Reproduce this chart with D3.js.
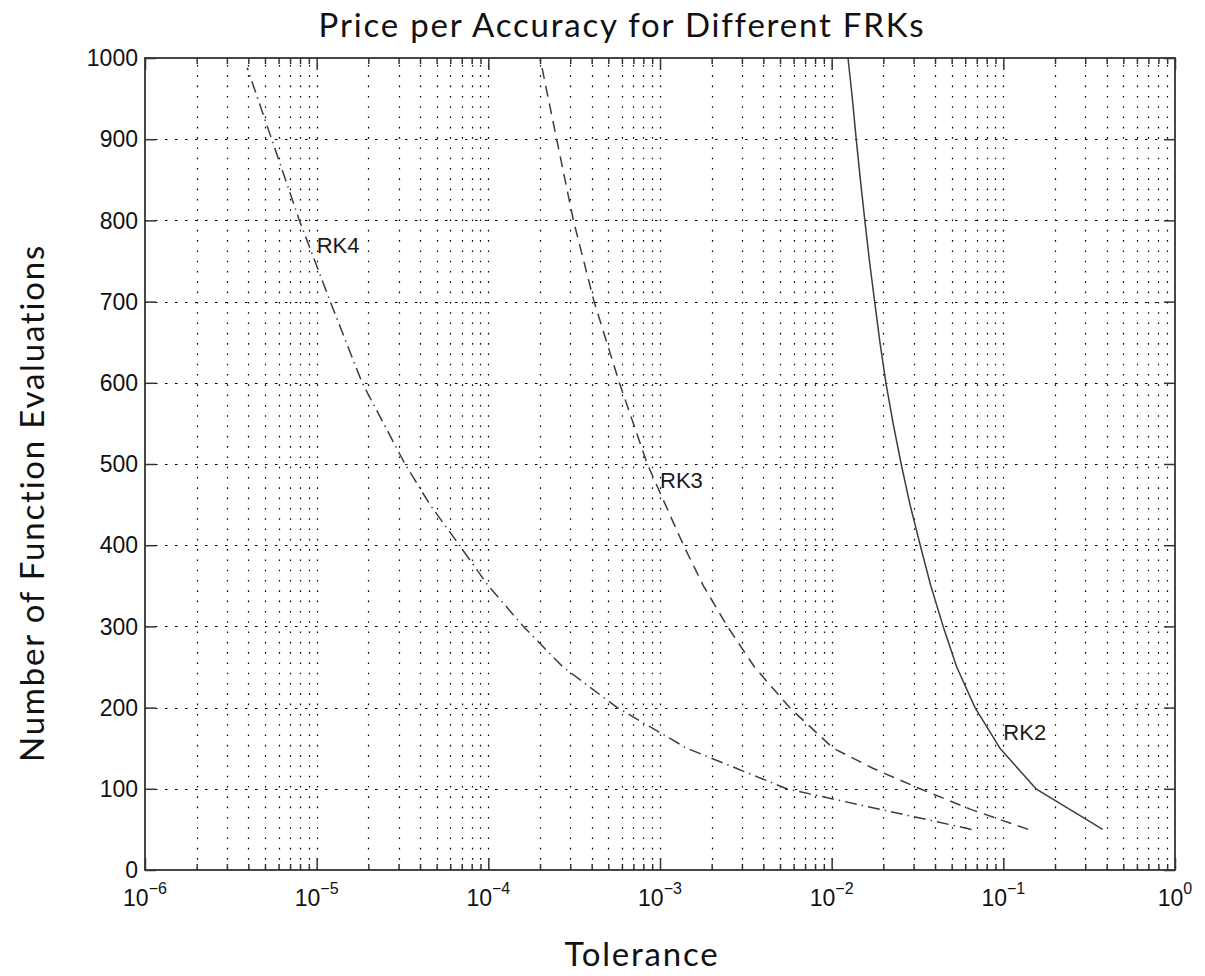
<!DOCTYPE html>
<html>
<head>
<meta charset="utf-8">
<script src="https://cdn.jsdelivr.net/npm/d3@7"></script>
<style>
  body { margin: 0; background: #fff; }
  svg { display: block; }
</style>
</head>
<body>
<svg id="chart" width="1205" height="976"></svg>
<script>
// Function evaluations needed to reach a given tolerance, per scheme
const rk2Evals = [50, 100, 150, 200, 250, 300, 350, 400, 450, 500, 550, 600, 650, 700, 750, 800, 850, 900, 950, 1000];
const rk2Tol   = [0.379, 0.155, 0.0955, 0.0684, 0.0535, 0.0446, 0.0378, 0.0328, 0.0286, 0.0254, 0.0228, 0.0207, 0.0191, 0.0178, 0.0166, 0.0156, 0.0147, 0.0139, 0.0132, 0.01245];

const rk3Evals = [50, 75, 100, 125, 150, 200, 250, 300, 350, 400, 500, 600, 700, 800, 900, 1000];
const rk3Tol   = [0.1396, 0.064, 0.0327, 0.0175, 0.0102, 0.00569, 0.00355, 0.00247, 0.00179, 0.00137, 0.000843, 0.00058, 0.000413, 0.000313, 0.00025, 0.0002];

const rk4Evals = [50, 100, 125, 150, 200, 250, 300, 350, 400, 450, 500, 600, 700, 800, 900, 988];
const rk4Tol   = [0.0653, 0.00547, 0.0028, 0.00143, 0.000564, 0.000272, 0.00016, 0.0001, 0.0000678, 0.0000457, 0.0000327, 0.0000184, 0.000012, 0.00000793, 0.00000547, 0.00000394];

// Curve annotations
const labelNames = ["RK2", "RK3", "RK4"];
const labelTol   = [1e-1, 1e-3, 1e-5];
const labelEvals = [170, 480, 770];

// Axis ticks
const yTickValues = [0, 100, 200, 300, 400, 500, 600, 700, 800, 900, 1000];
const xDecadeExponents = [-6, -5, -4, -3, -2, -1, 0];

const svg = d3.select("#chart");
const plotLeft = 145, plotRight = 1175, plotTop = 58, plotBottom = 870;

const x = d3.scaleLog().domain([1e-6, 1]).range([plotLeft, plotRight]);
const y = d3.scaleLinear().domain([0, 1000]).range([plotBottom, plotTop]);

const decades = xDecadeExponents.map(e => Math.pow(10, e));
const minors = [];
for (let e = -6; e < 0; e++) {
  for (let m = 2; m <= 9; m++) minors.push(m * Math.pow(10, e));
}

// dotted grid: every log position on x, major ticks on y
const grid = svg.append("g").attr("stroke", "#000").attr("stroke-width", 1.2);
grid.selectAll("line.v")
  .data(minors.concat(decades.slice(1, -1)))
  .join("line")
  .attr("x1", d => Math.round(x(d)) + 0.5).attr("x2", d => Math.round(x(d)) + 0.5)
  .attr("y1", plotBottom).attr("y2", plotTop)
  .attr("stroke-dasharray", "1.6,8.7");
grid.selectAll("line.h")
  .data(yTickValues.slice(1, -1))
  .join("line")
  .attr("y1", d => Math.round(y(d)) + 0.5).attr("y2", d => Math.round(y(d)) + 0.5)
  .attr("x1", plotLeft).attr("x2", plotRight)
  .attr("stroke-dasharray", "2.5,7.5");

// curves
const line = d3.line().x(d => x(d[0])).y(d => y(d[1]));
const series = [
  { tol: rk2Tol, evals: rk2Evals, dash: null },
  { tol: rk3Tol, evals: rk3Evals, dash: "11,7" },
  { tol: rk4Tol, evals: rk4Evals, dash: "12,5,1.5,5" }
];
const plot = svg.append("g");
series.forEach(s => {
  const pts = s.tol.map((t, i) => [t, s.evals[i]]);
  plot.append("path")
    .attr("d", line(pts))
    .attr("fill", "none")
    .attr("stroke", "#3d3d3d")
    .attr("stroke-width", 1.5)
    .attr("stroke-linejoin", "round")
    .attr("stroke-dasharray", s.dash);
});

// axes: inward ticks on all four sides
const axisColor = "#333";
function styleAxis(g) {
  g.select(".domain").remove();
  g.selectAll(".tick line").attr("stroke", axisColor).attr("stroke-width", 1.5);
  g.selectAll(".tick text").remove();
}
svg.append("g").attr("transform", `translate(0,${plotBottom})`)
  .call(d3.axisBottom(x).tickValues(decades).tickSizeInner(-12).tickSizeOuter(0)).call(styleAxis);
svg.append("g").attr("transform", `translate(0,${plotBottom})`)
  .call(d3.axisBottom(x).tickValues(minors).tickSizeInner(-6).tickSizeOuter(0)).call(styleAxis);
svg.append("g").attr("transform", `translate(0,${plotTop})`)
  .call(d3.axisTop(x).tickValues(decades).tickSizeInner(-12).tickSizeOuter(0)).call(styleAxis);
svg.append("g").attr("transform", `translate(0,${plotTop})`)
  .call(d3.axisTop(x).tickValues(minors).tickSizeInner(-6).tickSizeOuter(0)).call(styleAxis);
svg.append("g").attr("transform", `translate(${plotLeft},0)`)
  .call(d3.axisLeft(y).tickValues(yTickValues).tickSizeInner(-11).tickSizeOuter(0)).call(styleAxis);
svg.append("g").attr("transform", `translate(${plotRight},0)`)
  .call(d3.axisRight(y).tickValues(yTickValues).tickSizeInner(-11).tickSizeOuter(0)).call(styleAxis);

// frame
svg.append("rect")
  .attr("x", plotLeft).attr("y", plotTop)
  .attr("width", plotRight - plotLeft).attr("height", plotBottom - plotTop)
  .attr("fill", "none").attr("stroke", axisColor).attr("stroke-width", 1.8);

// tick labels
const tickFont = "'Liberation Sans', Arial, sans-serif";
svg.append("g").selectAll("text")
  .data(yTickValues)
  .join("text")
  .attr("x", plotLeft - 7).attr("y", d => y(d))
  .attr("dy", "0.36em")
  .attr("text-anchor", "end")
  .attr("font-family", tickFont).attr("font-size", 23)
  .attr("fill", "#111")
  .text(d => d);

const xl = svg.append("g").selectAll("text")
  .data(xDecadeExponents)
  .join("text")
  .attr("x", e => x(Math.pow(10, e)))
  .attr("y", 906)
  .attr("text-anchor", "middle")
  .attr("font-family", tickFont).attr("font-size", 23)
  .attr("fill", "#111");
xl.append("tspan").text("10");
xl.append("tspan").attr("dy", -12).attr("font-size", 16).text(e => e < 0 ? "\u2212" + (-e) : String(e));

// curve labels
svg.append("g").selectAll("text")
  .data(labelNames)
  .join("text")
  .attr("x", (d, i) => x(labelTol[i]))
  .attr("y", (d, i) => y(labelEvals[i]))
  .attr("dy", "0.36em")
  .attr("font-family", tickFont).attr("font-size", 22)
  .attr("fill", "#1a1a1a")
  .text(d => d);

// titles
const titleFont = "Lato, 'Open Sans', sans-serif";
function titleText(sel) {
  return sel.attr("text-anchor", "middle")
    .attr("font-family", titleFont).attr("font-size", 33)
    .attr("letter-spacing", 1.8)
    .attr("fill", "#111");
}
svg.append("text").call(titleText)
  .attr("x", 622).attr("y", 37)
  .text("Price per Accuracy for Different FRKs");
svg.append("text").call(titleText)
  .attr("x", 642).attr("y", 966)
  .text("Tolerance");
svg.append("text").call(titleText)
  .attr("transform", "translate(44,503) rotate(-90)")
  .text("Number of Function Evaluations");
</script>
</body>
</html>
